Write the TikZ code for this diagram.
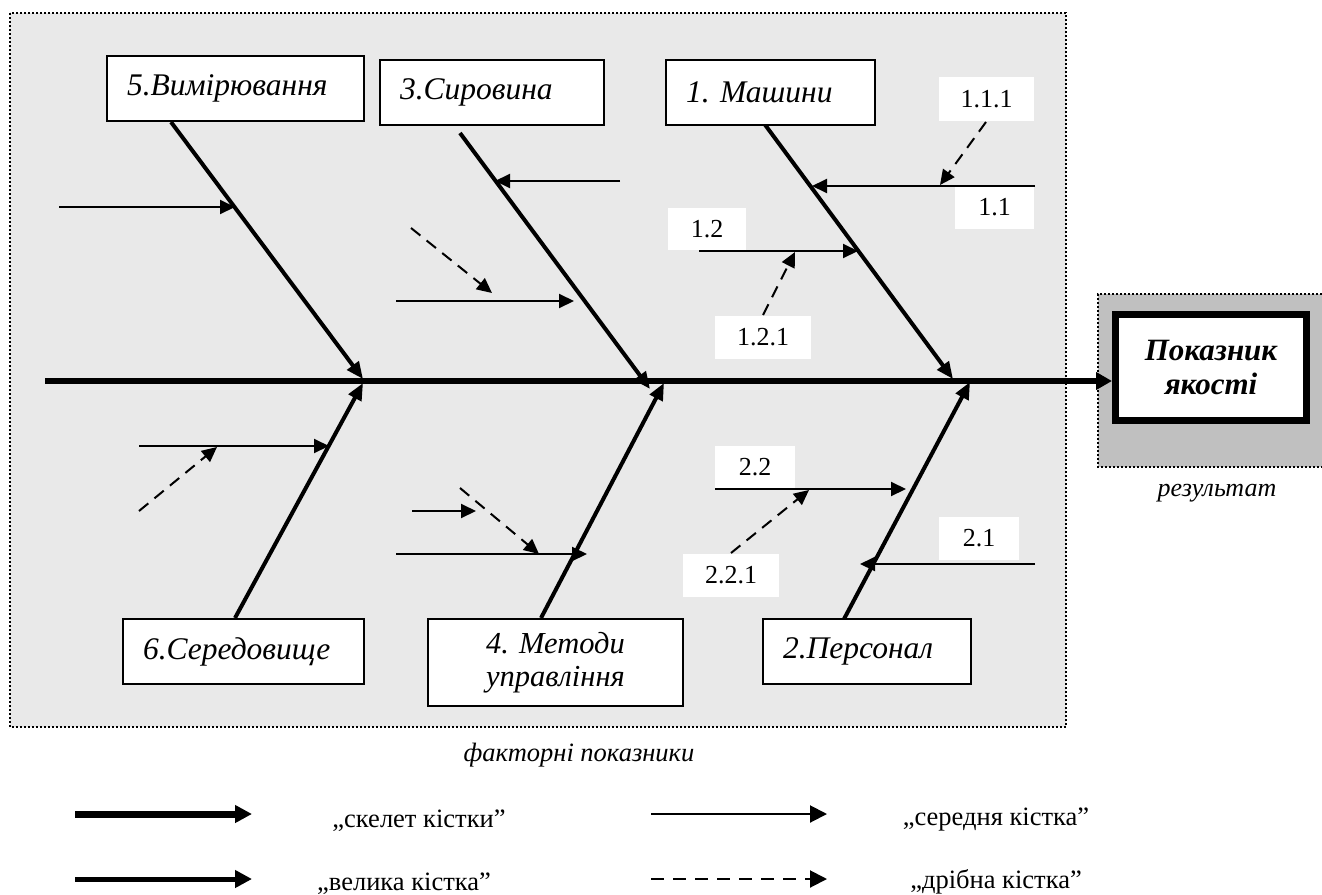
\documentclass[tikz,border=0pt]{standalone}
\usepackage{fontspec}
\setmainfont{Liberation Serif}
\usetikzlibrary{arrows.meta}
\definecolor{regiongray}{RGB}{233,233,233}
\definecolor{shadowgray}{RGB}{192,192,192}
\frenchspacing
\tikzset{
  fbox/.style={draw, fill=white, line width=1.5pt, inner xsep=20pt, inner ysep=0pt,
    font=\fontsize{31.5}{34}\selectfont\itshape, align=left},
  lbl/.style={fill=white, inner sep=0pt, font=\fontsize{26}{28}\selectfont},
  spine/.style={line width=6.5pt, -{Triangle[length=16pt,width=17pt]}},
  bone/.style={line width=4pt, -{Triangle[length=17pt,width=14pt]}},
  mid/.style={line width=2pt, -{Triangle[length=15pt,width=14pt]}},
  small/.style={line width=2pt, dash pattern=on 12pt off 8pt, -{Triangle[length=15pt,width=14pt]}},
  dotborder/.style={line width=1.6pt, dash pattern=on 2pt off 2pt},
  legtext/.style={font=\fontsize{26.5}{30}\selectfont},
  captext/.style={font=\fontsize{26.5}{30}\selectfont\itshape},
}
\begin{document}
\begin{tikzpicture}[x=1pt,y=-1pt]
\useasboundingbox (0,0) rectangle (1322,894);

% regions
\fill[regiongray] (10,13) rectangle (1066,727);
\draw[dotborder] (10,13) rectangle (1066,727);
\fill[shadowgray] (1098,294) rectangle (1322,467);
\draw[dotborder] (1322,294) -- (1098,294) -- (1098,467) -- (1322,467);

% number labels
\node[lbl, minimum width=95pt, minimum height=44pt] (l111) at (986.5,99) {1.1.1};
\node[lbl, minimum width=79pt, minimum height=43pt] (l11) at (994.5,207.5) {1.1};
\node[lbl, minimum width=78pt, minimum height=42pt] (l12) at (707,229) {1.2};
\node[lbl, minimum width=96pt, minimum height=43pt] (l121) at (763,337.5) {1.2.1};
\node[lbl, minimum width=80pt, minimum height=43pt] (l22) at (755,467.5) {2.2};
\node[lbl, minimum width=96pt, minimum height=43pt] (l221) at (731,575.5) {2.2.1};
\node[lbl, minimum width=80pt, minimum height=43pt] (l21) at (979,538.5) {2.1};

% coordinates
\coordinate (s0) at (45,381);
\coordinate (b5s) at (171,122);  \coordinate (b5e) at (363,379);
\coordinate (b3s) at (460,133);  \coordinate (b3e) at (650,389);
\coordinate (b1s) at (763,122);  \coordinate (b1e) at (953,379);
\coordinate (b6s) at (235,618);  \coordinate (b6e) at (363,383);
\coordinate (b4s) at (541,618);  \coordinate (b4e) at (664,383);
\coordinate (b2s) at (844,619);  \coordinate (b2e) at (970,382);

\coordinate (m5s) at (59,207);   \coordinate (m5e) at (235,207);
\coordinate (m3as) at (620,181); \coordinate (m3ae) at (495,181);
\coordinate (m3bs) at (396,301); \coordinate (m3be) at (574,301);
\coordinate (d3s) at (411,228);  \coordinate (d3e) at (492,293);
\coordinate (m11s) at (1035,186);\coordinate (m11e) at (812,186);
\coordinate (d111s) at (986,122);\coordinate (d111e) at (940,185);
\coordinate (m12s) at (699,251); \coordinate (m12e) at (858,251);
\coordinate (d121s) at (763,315);\coordinate (d121e) at (795,252);
\coordinate (m6s) at (139,446);  \coordinate (m6e) at (329,446);
\coordinate (d6s) at (139,511);  \coordinate (d6e) at (217,447);
\coordinate (m4as) at (412,511); \coordinate (m4ae) at (476,511);
\coordinate (m4bs) at (396,554); \coordinate (m4be) at (587,554);
\coordinate (d4s) at (460,488);  \coordinate (d4e) at (539,554);
\coordinate (m22s) at (715,489); \coordinate (m22e) at (906,489);
\coordinate (d221s) at (731,553);\coordinate (d221e) at (809,490);
\coordinate (m21s) at (1035,564);\coordinate (m21e) at (860,564);

% result box
\node[draw, fill=white, line width=7pt, minimum width=191pt, minimum height=106pt,
  inner sep=0pt, align=center, font=\fontsize{31}{34}\selectfont\bfseries\itshape]
  (res) at (1211,367) {Показник\\якості};

% spine
\draw[spine] (s0) -- (s0 -| res.west);

% bones
\draw[bone] (b5s) -- (b5e);
\draw[bone] (b3s) -- (b3e);
\draw[bone] (b1s) -- (b1e);
\draw[bone] (b6s) -- (b6e);
\draw[bone] (b4s) -- (b4e);
\draw[bone] (b2s) -- (b2e);

% medium bones
\draw[mid] (m5s) -- (m5e);
\draw[mid] (m3as) -- (m3ae);
\draw[mid] (m3bs) -- (m3be);
\draw[mid] (m11s) -- (m11e);
\draw[mid] (m12s) -- (m12e);
\draw[mid] (m6s) -- (m6e);
\draw[mid] (m4as) -- (m4ae);
\draw[mid] (m4bs) -- (m4be);
\draw[mid] (m22s) -- (m22e);
\draw[mid] (m21s) -- (m21e);

% small bones
\draw[small] (d3s) -- (d3e);
\draw[small] (d111s) -- (d111e);
\draw[small] (d121s) -- (d121e);
\draw[small] (d6s) -- (d6e);
\draw[small] (d4s) -- (d4e);
\draw[small] (d221s) -- (d221e);

% factor boxes
\node[fbox, minimum width=257pt, minimum height=65pt, text width=217pt] (b5) at (235.5,88.5) {5.Вимірювання};
\node[fbox, minimum width=224pt, minimum height=65pt, text width=184pt] (b3) at (492,92.5) {3.Сировина};
\node[fbox, minimum width=209pt, minimum height=65pt, text width=169pt] (b1) at (770.5,92.5) {1. Машини};
\node[fbox, minimum width=241pt, minimum height=65pt, text width=201pt] (b6) at (243.5,651.5) {6.Середовище};
\node[fbox, minimum width=255pt, minimum height=87pt, text width=215pt, align=center,
  font=\fontsize{30.5}{33}\selectfont\itshape] (b4) at (555.5,662.5) {4. Методи\\управління};
\node[fbox, minimum width=208pt, minimum height=65pt, text width=168pt] (b2) at (867,651.5) {2.Персонал};

% captions
\node[captext] (cap1) at (579,755) {факторні показники};
\node[captext, font=\fontsize{26}{30}\selectfont\itshape] (cap2) at (1217,493) {результат};

% legend
\coordinate (g1s) at (75,814);  \coordinate (g1e) at (252,814);
\coordinate (g2s) at (75,879);  \coordinate (g2e) at (252,879);
\coordinate (g3s) at (651,814); \coordinate (g3e) at (827,814);
\coordinate (g4s) at (651,879); \coordinate (g4e) at (827,879);
\draw[line width=7pt, -{Triangle[length=17pt,width=17pt]}] (g1s) -- (g1e);
\draw[line width=5pt, -{Triangle[length=17pt,width=17pt]}] (g2s) -- (g2e);
\draw[line width=2pt, -{Triangle[length=17pt,width=17pt]}] (g3s) -- (g3e);
\draw[line width=2pt, dash pattern=on 13pt off 9pt, -{Triangle[length=17pt,width=17pt]}] (g4s) -- (g4e);
\node[legtext] (t1) at (419,821) {„скелет кістки”};
\node[legtext] (t2) at (404,884) {„велика кістка”};
\node[legtext] (t3) at (996,819) {„середня кістка”};
\node[legtext] (t4) at (996,882) {„дрібна кістка”};
\end{tikzpicture}
\end{document}
